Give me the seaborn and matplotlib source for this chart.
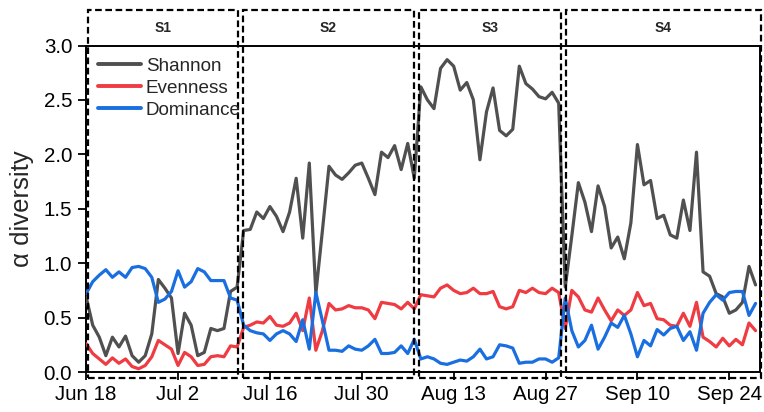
import numpy as np
import pandas as pd
import matplotlib
matplotlib.use("Agg")
import matplotlib.pyplot as plt
import matplotlib.dates as mdates
import matplotlib.transforms as mtransforms
from matplotlib.patches import Rectangle
import seaborn as sns

# ---------------- data ----------------
start_date = "2019-06-18"
shannon = [0.69, 0.43, 0.32, 0.15, 0.32, 0.23, 0.33, 0.15, 0.09, 0.15,
           0.35, 0.85, 0.77, 0.68, 0.17, 0.54, 0.43, 0.15, 0.18, 0.40,
           0.38, 0.40, 0.74, 0.78, 1.30, 1.31, 1.47, 1.41, 1.52, 1.43,
           1.29, 1.47, 1.78, 1.23, 1.92, 0.72, 1.30, 1.89, 1.81, 1.77,
           1.83, 1.90, 1.92, 1.78, 1.63, 2.02, 1.97, 2.08, 1.86, 2.10,
           1.78, 2.62, 2.50, 2.42, 2.79, 2.87, 2.81, 2.59, 2.66, 2.50,
           1.95, 2.39, 2.61, 2.22, 2.17, 2.23, 2.81, 2.65, 2.60, 2.53,
           2.51, 2.57, 2.47, 0.78, 1.25, 1.74, 1.56, 1.29, 1.71, 1.52,
           1.14, 1.24, 1.04, 1.37, 2.09, 1.72, 1.76, 1.41, 1.44, 1.26,
           1.23, 1.58, 1.30, 2.02, 0.92, 0.88, 0.72, 0.69, 0.54, 0.57,
           0.64, 0.97, 0.80]
evenness = [0.26, 0.17, 0.12, 0.07, 0.13, 0.08, 0.12, 0.05, 0.03, 0.06,
            0.14, 0.29, 0.25, 0.21, 0.06, 0.18, 0.14, 0.06, 0.07, 0.14,
            0.15, 0.14, 0.24, 0.23, 0.41, 0.43, 0.46, 0.45, 0.51, 0.43,
            0.42, 0.45, 0.54, 0.38, 0.68, 0.20, 0.38, 0.63, 0.57, 0.58,
            0.61, 0.59, 0.59, 0.57, 0.49, 0.64, 0.63, 0.62, 0.58, 0.64,
            0.58, 0.71, 0.70, 0.69, 0.77, 0.80, 0.75, 0.72, 0.73, 0.77,
            0.72, 0.72, 0.74, 0.60, 0.58, 0.60, 0.75, 0.73, 0.77, 0.73,
            0.72, 0.77, 0.73, 0.40, 0.75, 0.69, 0.57, 0.55, 0.68, 0.57,
            0.47, 0.57, 0.52, 0.57, 0.73, 0.61, 0.63, 0.49, 0.48, 0.43,
            0.42, 0.54, 0.42, 0.64, 0.32, 0.28, 0.23, 0.31, 0.24, 0.30,
            0.25, 0.45, 0.38]
dominance = [0.72, 0.83, 0.89, 0.94, 0.87, 0.92, 0.87, 0.96, 0.97, 0.95,
             0.87, 0.64, 0.67, 0.74, 0.93, 0.78, 0.83, 0.95, 0.92, 0.84,
             0.84, 0.84, 0.68, 0.66, 0.43, 0.38, 0.36, 0.35, 0.29, 0.35,
             0.38, 0.35, 0.28, 0.48, 0.21, 0.73, 0.47, 0.20, 0.20, 0.19,
             0.24, 0.21, 0.20, 0.24, 0.30, 0.17, 0.17, 0.18, 0.24, 0.17,
             0.30, 0.12, 0.14, 0.12, 0.08, 0.07, 0.09, 0.11, 0.10, 0.14,
             0.21, 0.12, 0.14, 0.25, 0.24, 0.22, 0.08, 0.09, 0.09, 0.12,
             0.12, 0.09, 0.13, 0.68, 0.38, 0.23, 0.29, 0.43, 0.21, 0.32,
             0.45, 0.41, 0.52, 0.35, 0.14, 0.29, 0.24, 0.39, 0.34, 0.40,
             0.42, 0.29, 0.37, 0.20, 0.54, 0.64, 0.71, 0.66, 0.73, 0.74,
             0.74, 0.52, 0.63]
series_names = ["Shannon", "Evenness", "Dominance"]
stage_names = ["S1", "S2", "S3", "S4"]
tick_dates = ["2019-06-18", "2019-07-02", "2019-07-16", "2019-07-30",
              "2019-08-13", "2019-08-27", "2019-09-10", "2019-09-24"]
y_ticks = [0.0, 0.5, 1.0, 1.5, 2.0, 2.5, 3.0]

# ---------------- style ----------------
sns.set_theme(style="ticks")
plt.rcParams["font.family"] = ["Liberation Sans", "DejaVu Sans"]

colors = ["#505050", "#ef3b42", "#1a6fe0"]
dates = pd.date_range(start_date, periods=len(shannon), freq="D")
df = pd.DataFrame({"date": dates, "Shannon": shannon,
                   "Evenness": evenness, "Dominance": dominance})

W, H = 764, 412
fig = plt.figure(figsize=(W / 100, H / 100), dpi=100)
ax = fig.add_axes([85.5 / W, (H - 372) / H, (759.5 - 85.5) / W, (372 - 45.5) / H])

for name, c in zip(series_names, colors):
    sns.lineplot(data=df, x="date", y=name, ax=ax, color=c, lw=2.3,
                 label=name, zorder=3)

d0 = mdates.date2num(pd.Timestamp(start_date))
ax.set_xlim(d0 - 0.1, d0 + 102.6)
ax.set_ylim(0, 3.0)
ax.set_yticks(y_ticks)
ax.set_yticklabels([f"{v:.1f}" for v in y_ticks])
tds = pd.to_datetime(tick_dates)
ax.set_xticks(mdates.date2num(tds))
ax.set_xticklabels([f"{t:%b} {t.day}" for t in tds])
ax.set_xlabel("")
ax.set_ylabel("α diversity", fontsize=18.5, labelpad=7)

for s in ax.spines.values():
    s.set_linewidth(1.4)
    s.set_color("black")
ax.tick_params(axis="both", direction="out", length=6, width=1.3,
               labelsize=14.8, colors="black", pad=3.5)

# stage boxes (dashed)
trans = mtransforms.blended_transform_factory(ax.transData, ax.transAxes)
box_edges = [(0.35, 23.1), (23.85, 50.0), (50.7, 72.3), (73.05, 102.85)]
y_bot, y_top = -0.018, 1.109
for (a, b), lab in zip(box_edges, stage_names):
    r = Rectangle((d0 + a, y_bot), b - a, y_top - y_bot, transform=trans,
                  fill=False, ls=(0, (3.0, 1.6)), lw=1.6, ec="black",
                  clip_on=False, zorder=5)
    ax.add_patch(r)
    ax.text(d0 + (a + b) / 2, 1.054, lab, transform=trans, ha="center",
            va="center", fontsize=10, fontweight="bold")

leg = ax.legend(loc="upper left", frameon=False, fontsize=13.6,
                handlelength=2.3, handletextpad=0.25, labelspacing=0.25,
                borderaxespad=0.25, bbox_to_anchor=(0.0, 1.0))
for lh in leg.get_lines():
    lh.set_linewidth(2.8)

fig.savefig("out.png", dpi=100)
